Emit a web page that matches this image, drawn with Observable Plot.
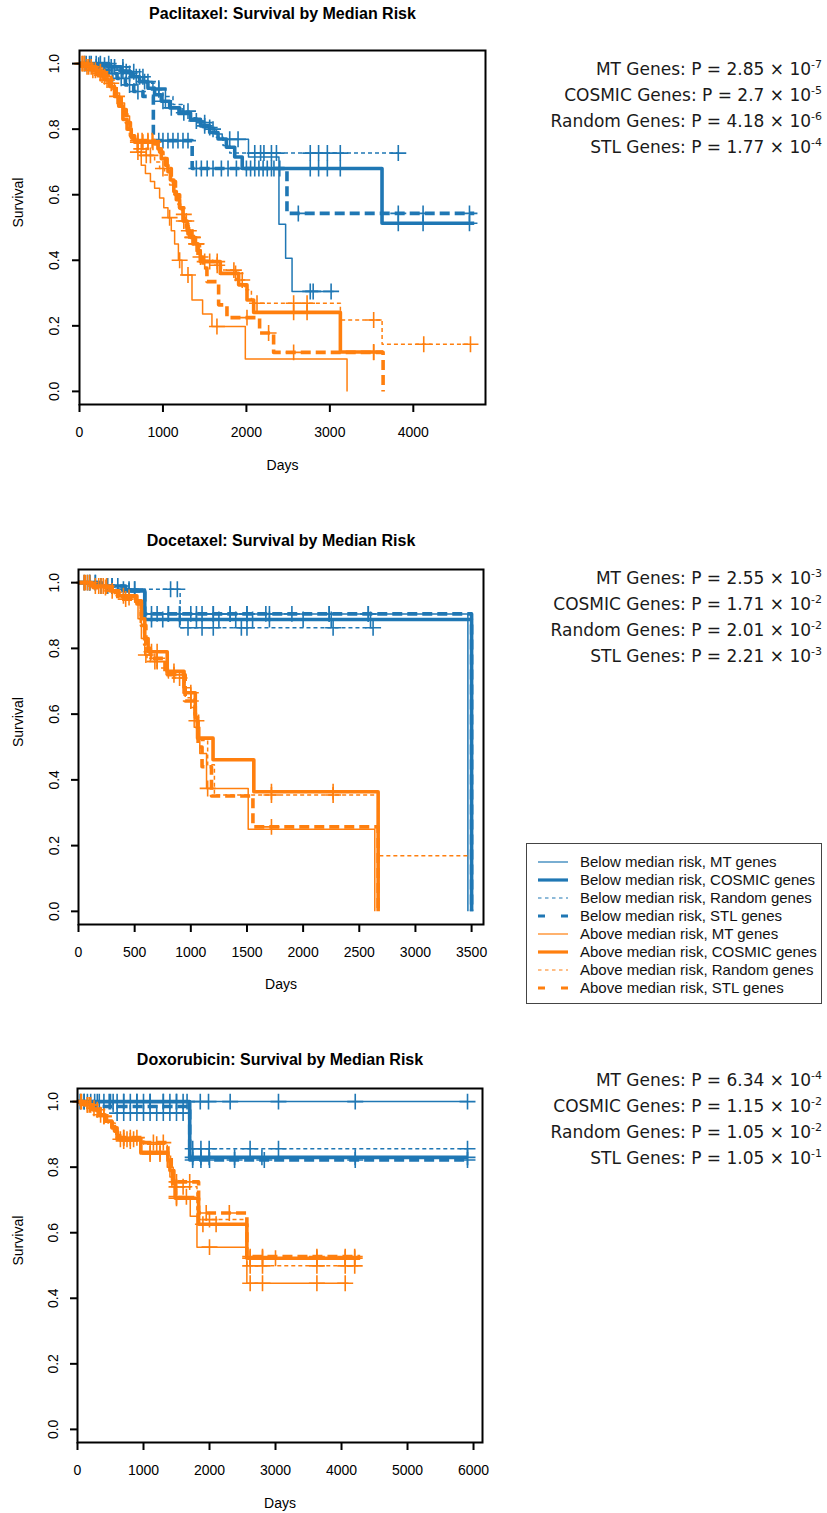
<!DOCTYPE html>
<html>
<head>
<meta charset="utf-8">
<script src="https://cdn.jsdelivr.net/npm/d3@7"></script>
<script src="https://cdn.jsdelivr.net/npm/@observablehq/plot@0.6"></script>
<style>
html,body{margin:0;padding:0;background:#fff;}
#root{position:relative;width:827px;height:1513px;overflow:hidden;background:#fff;}
#root svg.pl{position:absolute;left:0;}
.ann{position:absolute;right:5px;width:330px;text-align:right;font-family:"DejaVu Sans",sans-serif;font-size:17px;color:#1a1a1a;}
.ann .row{height:26px;line-height:26px;white-space:nowrap;}
.ann .sup{font-size:11px;position:relative;top:-7px;}
.legend{position:absolute;left:526px;top:843px;width:294px;height:159px;border:1px solid #444;font-family:"Liberation Sans",Arial,sans-serif;font-size:15px;color:#111;}
.legend .row{position:absolute;left:0;width:290px;height:18px;line-height:18px;white-space:nowrap;}
.legend svg{position:absolute;left:11px;top:0;}
.legend span{position:absolute;left:53px;top:0;}
</style>
</head>
<body>
<div id="root"></div>
<script>
// ---------- data ----------
const geneSets = ["MT", "COSMIC", "Random", "STL"];
const groups = ["below", "above"];

// Paclitaxel
const pac_below_MT = [[0,1],[180,0.995],[320,0.99],[450,0.98],[560,0.97],[660,0.96],[760,0.945],[880,0.925],[1030,0.865],[1180,0.845],[1330,0.825],[1480,0.805],[1620,0.785],[1710,0.769],[2025,0.715],[2390,0.51],[2470,0.406],[2547,0.305],[3045,0.305]];
const pac_below_MT_c = [60,140,230,300,380,520,600,720,820,950,1100,1400,1560,1800,1900,2765,2800,3015];
const pac_below_COSMIC = [[0,1],[350,0.99],[500,0.975],[620,0.96],[720,0.945],[820,0.925],[900,0.905],[980,0.885],[1080,0.865],[1200,0.85],[1330,0.83],[1450,0.81],[1560,0.79],[1660,0.77],[1760,0.745],[1860,0.715],[1950,0.68],[3625,0.513],[4730,0.513]];
const pac_below_COSMIC_c = [120,250,420,560,680,780,1000,1250,1500,2050,2150,2250,2330,2765,2865,2970,3125,3820,4117,4673];
const pac_below_Random = [[0,1],[420,0.99],[580,0.975],[700,0.96],[800,0.94],[900,0.92],[1000,0.9],[1120,0.875],[1230,0.855],[1340,0.835],[1440,0.82],[1540,0.8],[1640,0.775],[1720,0.75],[1800,0.727],[3820,0.727]];
const pac_below_Random_c = [200,350,520,650,760,950,1300,1500,1600,2100,2170,2210,2300,2360,2765,2865,2970,3125,3820];
const pac_below_STL = [[0,1],[150,0.99],[250,0.98],[350,0.97],[450,0.955],[550,0.935],[650,0.915],[760,0.9],[885,0.765],[1350,0.68],[2486,0.543],[4730,0.543]];
const pac_below_STL_c = [80,200,300,400,500,600,700,950,1000,1060,1120,1180,1240,1300,1400,1460,1530,1600,1700,1780,1880,2000,2100,2200,2300,2400,2622,3820,4117,4673];
const pac_above_MT = [[0,1],[60,0.99],[120,0.98],[200,0.97],[280,0.955],[350,0.94],[420,0.91],[480,0.88],[540,0.84],[600,0.8],[630,0.77],[690,0.73],[740,0.69],[790,0.665],[850,0.64],[900,0.62],[960,0.59],[1010,0.56],[1060,0.53],[1100,0.49],[1140,0.45],[1185,0.4],[1228,0.355],[1348,0.279],[1475,0.236],[1587,0.198],[1987,0.099],[3206,0]];
const pac_above_MT_c = [30,90,160,250,380,700,1080,1200,1300,1647];
const pac_above_COSMIC = [[0,1],[80,0.99],[150,0.98],[230,0.965],[300,0.95],[360,0.93],[420,0.9],[470,0.87],[520,0.83],[570,0.8],[620,0.775],[660,0.76],[940,0.74],[980,0.71],[1030,0.69],[1060,0.67],[1090,0.645],[1130,0.61],[1160,0.585],[1200,0.56],[1240,0.52],[1290,0.49],[1330,0.47],[1380,0.45],[1420,0.43],[1447,0.396],[1687,0.36],[1907,0.325],[2007,0.279],[2087,0.241],[3126,0.12],[3638,0.12]];
const pac_above_COSMIC_c = [40,110,190,270,330,450,700,760,820,880,1250,1310,1360,1400,1500,1560,1650,1870,2566,2727,3525];
const pac_above_Random = [[0,1],[100,0.99],[180,0.975],[260,0.96],[340,0.94],[400,0.91],[460,0.88],[520,0.85],[580,0.8],[620,0.77],[700,0.74],[800,0.72],[900,0.7],[960,0.68],[1020,0.66],[1080,0.63],[1130,0.6],[1180,0.57],[1220,0.54],[1270,0.5],[1320,0.47],[1380,0.45],[1450,0.4],[1600,0.385],[1700,0.37],[1880,0.34],[1980,0.31],[2060,0.28],[2087,0.269],[3126,0.218],[3626,0.144],[4685,0.144]];
const pac_above_Random_c = [140,300,740,800,850,1000,1250,1350,1650,1850,1950,2127,2566,2727,3525,4125,4685];
const pac_above_STL = [[0,1],[100,0.99],[200,0.975],[300,0.955],[380,0.93],[440,0.9],[500,0.86],[560,0.82],[610,0.78],[660,0.765],[900,0.755],[960,0.73],[1000,0.71],[1050,0.68],[1100,0.64],[1150,0.6],[1200,0.56],[1250,0.52],[1300,0.48],[1363,0.45],[1420,0.41],[1483,0.376],[1527,0.335],[1667,0.264],[1767,0.225],[2158,0.178],[2326,0.119],[3638,0]];
const pac_above_STL_c = [60,250,700,750,820,870,1280,1400,1450,2007,2266,2566,3525];

// Docetaxel
const doc_below_MT = [[0,1],[150,0.99],[350,0.98],[590,0.905],[3467,0]];
const doc_below_MT_c = [50,100,200,260,300,400,450,500,700,800,900,1000,1100,1200,1350,1500,1668,2232,2580];
const doc_below_COSMIC = [[0,1],[200,0.99],[400,0.975],[590,0.888],[3500,0]];
const doc_below_COSMIC_c = [80,150,300,450,650,750,900,1050,1250,1400,1550,1700,2000,2250,2600];
const doc_below_Random = [[0,1],[250,0.99],[450,0.98],[905,0.863],[2623,0.863]];
const doc_below_Random_c = [100,300,500,820,880,975,1100,1200,1450,1500,2267,2623];
const doc_below_STL = [[0,1],[200,0.99],[420,0.975],[590,0.905],[3500,0]];
const doc_below_STL_c = [150,350,650,800,900,1050,1200,1350,1500,1700,1900,2232,2580];
const doc_above_MT = [[0,1],[100,0.99],[250,0.975],[340,0.96],[500,0.94],[530,0.89],[560,0.83],[590,0.78],[640,0.76],[780,0.72],[930,0.68],[1000,0.62],[1030,0.56],[1080,0.48],[1140,0.374],[1511,0.25],[2638,0]];
const doc_above_MT_c = [50,150,200,300,600,700,1150];
const doc_above_COSMIC = [[0,1],[120,0.99],[280,0.975],[360,0.96],[520,0.945],[560,0.89],[590,0.83],[620,0.79],[790,0.73],[940,0.665],[1040,0.59],[1060,0.527],[1198,0.461],[1561,0.364],[2668,0]];
const doc_above_COSMIC_c = [60,180,250,400,650,700,850,1000,1718,2267];
const doc_above_Random = [[0,1],[150,0.99],[300,0.97],[380,0.955],[510,0.94],[550,0.87],[580,0.81],[610,0.76],[700,0.74],[800,0.71],[950,0.65],[1030,0.6],[1070,0.52],[1150,0.446],[1210,0.354],[2668,0.169],[3484,0.169]];
const doc_above_Random_c = [100,220,450,680,900,1718,2267];
const doc_above_STL = [[0,1],[130,0.985],[300,0.97],[350,0.95],[520,0.935],[560,0.87],[600,0.8],[640,0.77],[770,0.72],[950,0.64],[1040,0.58],[1065,0.5],[1100,0.44],[1184,0.351],[1553,0.257],[2668,0]];
const doc_above_STL_c = [80,240,420,700,850,1000,1050,1718];

// Doxorubicin
const dox_below_MT = [[0,1],[5909,1]];
const dox_below_MT_c = [40,100,150,200,260,330,400,480,540,600,700,800,900,1000,1100,1300,1400,1500,1600,1660,1860,1985,2313,3045,4208,5909];
const dox_below_COSMIC = [[0,1],[1700,0.83],[5909,0.83]];
const dox_below_COSMIC_c = [100,300,500,700,900,1100,1300,1500,1745,1870,1995,2380,2794,4208,5909];
const dox_below_Random = [[0,1],[540,0.965],[1708,0.856],[5909,0.856]];
const dox_below_Random_c = [600,700,800,900,1000,1100,1200,1300,1400,1500,1600,1745,1870,1995,2615,3045,5909];
const dox_below_STL = [[0,1],[250,0.985],[1700,0.822],[5909,0.822]];
const dox_below_STL_c = [1745,1870,2000,2380,2830,4208,5909];
const dox_above_MT = [[0,1],[80,0.99],[200,0.98],[280,0.97],[350,0.955],[450,0.94],[540,0.92],[580,0.9],[640,0.88],[950,0.84],[1360,0.8],[1400,0.77],[1430,0.74],[1470,0.71],[1708,0.65],[1810,0.556],[2566,0.446],[4106,0.446]];
const dox_above_MT_c = [50,150,250,400,700,800,1100,1250,1500,1650,2000,2616,2803,3627,4056];
const dox_above_COSMIC = [[0,1],[100,0.99],[230,0.975],[320,0.96],[420,0.94],[520,0.92],[600,0.885],[960,0.845],[1370,0.82],[1400,0.79],[1440,0.75],[1480,0.705],[1835,0.626],[2566,0.522],[4283,0.522]];
const dox_above_COSMIC_c = [60,180,300,650,750,850,1100,1250,1500,1900,2100,2616,2803,3000,3627,4056,4200];
const dox_above_Random = [[0,1],[120,0.99],[250,0.975],[350,0.955],[460,0.935],[570,0.91],[620,0.89],[1000,0.87],[1360,0.84],[1410,0.8],[1450,0.76],[1480,0.74],[1810,0.64],[2566,0.499],[4283,0.499]];
const dox_above_Random_c = [200,400,700,900,1200,1500,1600,2000,2616,2803,3627,4056,4200];
const dox_above_STL = [[0,1],[110,0.99],[240,0.975],[340,0.96],[440,0.94],[560,0.91],[640,0.89],[1000,0.875],[1370,0.83],[1420,0.79],[1460,0.755],[1835,0.66],[2566,0.527],[4283,0.527]];
const dox_above_STL_c = [150,350,700,800,1150,1300,1500,1700,1950,2300,2616,2803,3627,4056,4200];

// x ticks
const pacTicks = [0, 1000, 2000, 3000, 4000];
const docTicks = [0, 500, 1000, 1500, 2000, 2500, 3000, 3500];
const doxTicks = [0, 1000, 2000, 3000, 4000, 5000, 6000];
const yTicks = [0, 0.2, 0.4, 0.6, 0.8, 1.0];

// titles
const titles = ["Paclitaxel: Survival by Median Risk", "Docetaxel: Survival by Median Risk", "Doxorubicin: Survival by Median Risk"];

// p-values (mantissa, exponent) per gene set
const pacP = [["2.85", "-7"], ["2.7", "-5"], ["4.18", "-6"], ["1.77", "-4"]];
const docP = [["2.55", "-3"], ["1.71", "-2"], ["2.01", "-2"], ["2.21", "-3"]];
const doxP = [["6.34", "-4"], ["1.15", "-2"], ["1.05", "-2"], ["1.05", "-1"]];

// legend labels
const legendLabels = [
  "Below median risk, MT genes", "Below median risk, COSMIC genes",
  "Below median risk, Random genes", "Below median risk, STL genes",
  "Above median risk, MT genes", "Above median risk, COSMIC genes",
  "Above median risk, Random genes", "Above median risk, STL genes"
];

// ---------- styling ----------
const COLOR = {below: "#1f77b4", above: "#ff7f0e"};
const LINE = {
  MT: {w: 1.5, dash: null},
  COSMIC: {w: 3.6, dash: null},
  Random: {w: 1.5, dash: "4,3"},
  STL: {w: 3.6, dash: "10,5"}
};
const LEGLINE = {
  MT: {w: 1.2, dash: null},
  COSMIC: {w: 3.2, dash: null},
  Random: {w: 1.2, dash: "3.5,3.5"},
  STL: {w: 3.2, dash: "7,16"}
};

const curveSets = {
  pac: {below: {MT: [pac_below_MT, pac_below_MT_c], COSMIC: [pac_below_COSMIC, pac_below_COSMIC_c], Random: [pac_below_Random, pac_below_Random_c], STL: [pac_below_STL, pac_below_STL_c]},
        above: {MT: [pac_above_MT, pac_above_MT_c], COSMIC: [pac_above_COSMIC, pac_above_COSMIC_c], Random: [pac_above_Random, pac_above_Random_c], STL: [pac_above_STL, pac_above_STL_c]}},
  doc: {below: {MT: [doc_below_MT, doc_below_MT_c], COSMIC: [doc_below_COSMIC, doc_below_COSMIC_c], Random: [doc_below_Random, doc_below_Random_c], STL: [doc_below_STL, doc_below_STL_c]},
        above: {MT: [doc_above_MT, doc_above_MT_c], COSMIC: [doc_above_COSMIC, doc_above_COSMIC_c], Random: [doc_above_Random, doc_above_Random_c], STL: [doc_above_STL, doc_above_STL_c]}},
  dox: {below: {MT: [dox_below_MT, dox_below_MT_c], COSMIC: [dox_below_COSMIC, dox_below_COSMIC_c], Random: [dox_below_Random, dox_below_Random_c], STL: [dox_below_STL, dox_below_STL_c]},
        above: {MT: [dox_above_MT, dox_above_MT_c], COSMIC: [dox_above_COSMIC, dox_above_COSMIC_c], Random: [dox_above_Random, dox_above_Random_c], STL: [dox_above_STL, dox_above_STL_c]}}
};

function stepAt(steps, t) {
  let s = steps[0][1];
  for (const [ti, si] of steps) if (ti <= t) s = si;
  return s;
}

const root = document.getElementById("root");

function makePanel(cfg) {
  const marks = [];
  const sets = curveSets[cfg.key];
  for (const g of groups) {
    for (const gs of geneSets) {
      const [steps, cens] = sets[g][gs];
      const st = LINE[gs];
      marks.push(Plot.line(steps, {
        x: d => d[0], y: d => d[1], curve: "step-after",
        stroke: COLOR[g], strokeWidth: st.w,
        strokeDasharray: st.dash || undefined, strokeLinecap: "butt", strokeLinejoin: "round"
      }));
      marks.push(Plot.dot(cens.map(t => ({t, s: stepAt(steps, t)})), {
        x: "t", y: "s", symbol: "plus", r: 5.2, stroke: COLOR[g], strokeWidth: 1.6
      }));
    }
  }
  marks.push(Plot.frame({stroke: "#000", strokeWidth: 2}));
  marks.push(Plot.axisX({ticks: cfg.ticks, tickSize: 8, tickPadding: 15, tickFormat: d => String(d), label: null, strokeWidth: 2}));
  marks.push(Plot.axisY({ticks: yTicks, tickSize: 7, tickPadding: cfg.yPad, tickRotate: -90, tickFormat: d => d.toFixed(1), label: null, strokeWidth: 2}));
  marks.push(Plot.text([cfg.title], {text: d => d, frameAnchor: "top", dy: cfg.titleDy, fontWeight: "bold", fontSize: 16, lineAnchor: "middle"}));
  marks.push(Plot.text(["Days"], {text: d => d, frameAnchor: "bottom", dy: cfg.daysDy, lineAnchor: "middle"}));
  marks.push(Plot.text(["Survival"], {text: d => d, frameAnchor: "left", dx: cfg.survDx, rotate: -90, lineAnchor: "middle"}));

  const svg = Plot.plot({
    width: 500, height: cfg.height,
    marginTop: cfg.mt, marginBottom: cfg.mb, marginLeft: cfg.ml, marginRight: cfg.mr,
    x: {domain: [0, cfg.xmax]},
    y: {domain: [-0.04, 1.04]},
    style: {fontFamily: "'Liberation Sans', Arial, sans-serif", fontSize: "14px", color: "#000", background: "transparent", overflow: "visible"},
    marks
  });
  svg.classList.add("pl");
  svg.style.top = cfg.top + "px";
  root.appendChild(svg);

  // p-value annotation
  const ann = document.createElement("div");
  ann.className = "ann";
  ann.style.top = cfg.annTop + "px";
  cfg.pv.forEach((p, i) => {
    const row = document.createElement("div");
    row.className = "row";
    row.innerHTML = `${geneSets[i]} Genes: P = ${p[0]} \u00d7 10<span class="sup">${p[1]}</span>`;
    ann.appendChild(row);
  });
  root.appendChild(ann);
}

makePanel({key: "pac", top: 0, height: 480, mt: 50, mb: 76, ml: 79, mr: 15, xmax: 4865, ticks: pacTicks,
  title: titles[0], titleDy: -36.5, daysDy: 61, survDx: -60.7, yPad: 14, pv: pacP, annTop: 56});
makePanel({key: "doc", top: 520, height: 480, mt: 49, mb: 76, ml: 78, mr: 17, xmax: 3606, ticks: docTicks,
  title: titles[1], titleDy: -29, daysDy: 60, survDx: -60, yPad: 13, pv: docP, annTop: 565});
makePanel({key: "dox", top: 1040, height: 473, mt: 48, mb: 71, ml: 77, mr: 18, xmax: 6136, ticks: doxTicks,
  title: titles[2], titleDy: -29, daysDy: 61, survDx: -59, yPad: 13, pv: doxP, annTop: 1067});

// legend
const leg = document.createElement("div");
leg.className = "legend";
legendLabels.forEach((lab, i) => {
  const g = i < 4 ? "below" : "above";
  const gs = geneSets[i % 4];
  const st = LEGLINE[gs];
  const row = document.createElement("div");
  row.className = "row";
  row.style.top = (9 + 18 * i) + "px";
  row.innerHTML = `<svg width="30" height="18"><line x1="0" x2="30" y1="9" y2="9" stroke="${COLOR[g]}" stroke-width="${st.w}" ${st.dash ? `stroke-dasharray="${st.dash}"` : ""}/></svg><span>${lab}</span>`;
  leg.appendChild(row);
});
root.appendChild(leg);
</script>
</body>
</html>
